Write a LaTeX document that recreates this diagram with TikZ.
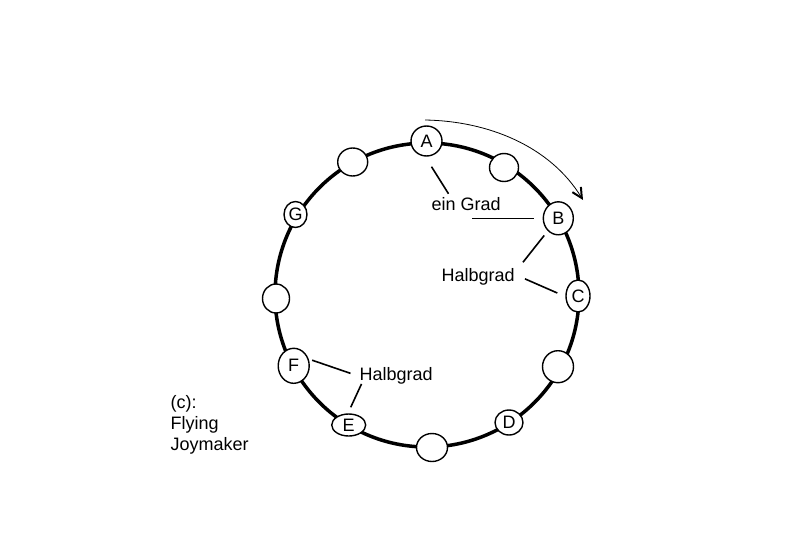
\documentclass[tikz,border=0pt]{standalone}
\usepackage{fontspec}
\setmainfont{Liberation Sans}
\usetikzlibrary{arrows.meta, shapes.geometric}

\begin{document}
\begin{tikzpicture}[
    x=1pt, y=-1pt,
    ring/.style={draw, line width=3.5pt},
    bead/.style={ellipse, draw, fill=white, line width=1.4pt, inner sep=0pt, font=\fontsize{18}{21}\selectfont},
    leader/.style={draw, line width=1.6pt},
    arcarrow/.style={draw, line width=0.8pt, -{Straight Barb[length=10pt, width=10pt, line width=2pt]}},
    labeltext/.style={inner sep=0pt, anchor=base west, font=\fontsize{18}{21}\selectfont}
]
\useasboundingbox (0,0) rectangle (794,559);

% Ring
\coordinate (ctr) at (427,295);
\draw[ring] (ctr) circle[radius=152pt];

% Beads
\node[bead, minimum width=31pt, minimum height=30pt] (A) at (426.5,141) {A};
\node[bead, minimum width=30pt, minimum height=28pt] (n1) at (352.7,162) {};
\node[bead, minimum width=23pt, minimum height=26pt] (G) at (295.5,214.5) {G};
\node[bead, minimum width=27pt, minimum height=29pt] (nL) at (276,298.5) {};
\node[bead, minimum width=31pt, minimum height=35pt] (F) at (293.7,365.8) {F};
\node[bead, minimum width=34pt, minimum height=22pt] (E) at (348.7,425) {E};
\node[bead, minimum width=31pt, minimum height=28pt] (nB) at (432,447.5) {};
\node[bead, minimum width=28pt, minimum height=25pt] (D) at (509,422.5) {D};
\node[bead, minimum width=31pt, minimum height=32pt] (nR) at (558,366.7) {};
\node[bead, minimum width=24pt, minimum height=32pt] (C) at (578,296) {C};
\node[bead, minimum width=30pt, minimum height=33pt] (B) at (558.3,218.3) {B};
\node[bead, minimum width=29pt, minimum height=28pt] (n2) at (504,167.5) {};

% Direction arrow
\coordinate (arrS) at (425,120);
\coordinate (arrE) at (583,200);
\draw[arcarrow] (arrS) .. controls (488,121) and (550,146) .. (arrE);

% Labels
\node[labeltext] (egrad) at (431.5,210) {ein Grad};
\node[labeltext] (hgA) at (441.5,281.5) {Halbgrad};
\node[labeltext] (hgB) at (359.5,380) {Halbgrad};
\node[labeltext, align=left, anchor=north west] (credit) at (170.5,395) {(c):\\Flying\\Joymaker};

% Leader lines
\draw[leader] ([shift={(17pt,3pt)}]egrad.north west) -- ([shift={(5pt,-10pt)}]A.south);
\draw[leader] ([xshift=-9pt]B.west) -- +(-62,0);
\draw[leader] ([shift={(8pt,6pt)}]hgA.north east) -- ([shift={(-3pt,-5pt)}]B.south west);
\draw[leader] ([shift={(10pt,-2pt)}]hgA.east) -- ([shift={(-8pt,3pt)}]C.west);
\draw[leader] ([xshift=3pt]F.20) -- ([shift={(-9pt,2pt)}]hgB.west);
\draw[leader] ([xshift=2pt]hgB.south west) -- ([shift={(2pt,6pt)}]E.north);

\end{tikzpicture}
\end{document}
